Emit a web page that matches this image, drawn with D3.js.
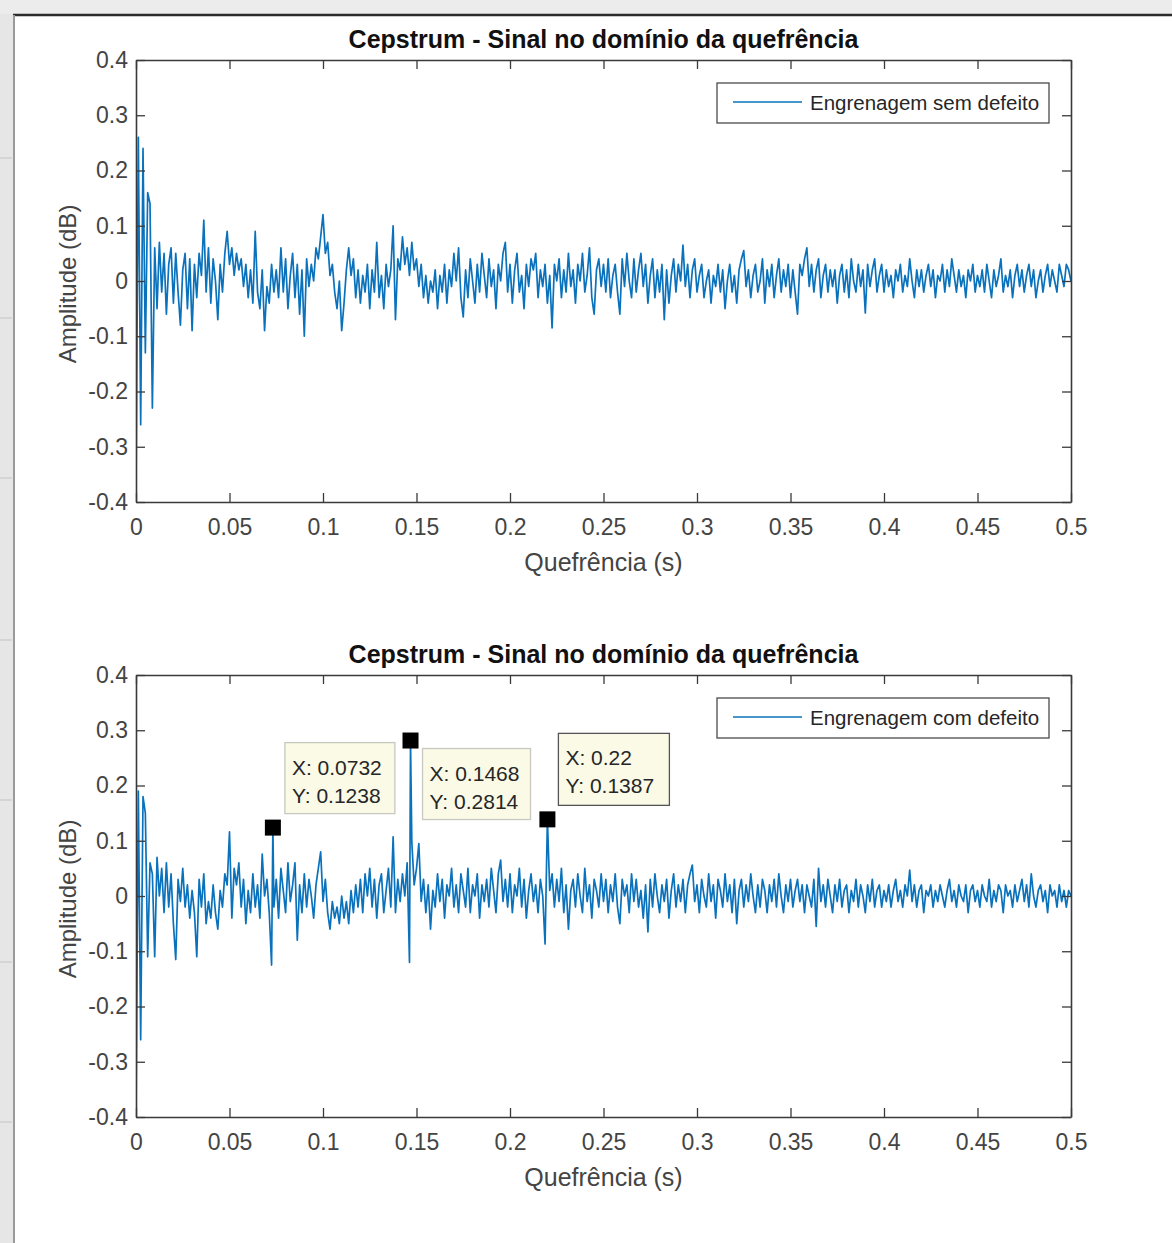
<!DOCTYPE html>
<html>
<head>
<meta charset="utf-8">
<script src="https://cdn.jsdelivr.net/npm/d3@7"></script>
<style>
  body { margin: 0; background: #ffffff; }
  svg { display: block; font-family: "Liberation Sans", Arial, Helvetica, sans-serif; }
</style>
</head>
<body>
<div id="chart"></div>
<script>
// Quefrency grid step of the sampled series (s)
const quefrencyStep = 0.00125;

const xTicks = [0, 0.05, 0.1, 0.15, 0.2, 0.25, 0.3, 0.35, 0.4, 0.45, 0.5];
const xTickLabels = ["0", "0.05", "0.1", "0.15", "0.2", "0.25", "0.3", "0.35", "0.4", "0.45", "0.5"];
const yTicks = [-0.4, -0.3, -0.2, -0.1, 0, 0.1, 0.2, 0.3, 0.4];
const yTickLabels = ["-0.4", "-0.3", "-0.2", "-0.1", "0", "0.1", "0.2", "0.3", "0.4"];

const titleText = "Cepstrum - Sinal no domínio da quefrência";
const xLabelText = "Quefrência (s)";
const yLabelText = "Amplitude (dB)";
const legendLabels = ["Engrenagem sem defeito", "Engrenagem com defeito"];

// Amplitude (dB), one value per 0.00125 s
const semDefeito = [
  -0.38, 0.26, -0.26, 0.24, -0.13, 0.16, 0.14, -0.23, 0.06, -0.05, 0.07, -0.02, 0.05, -0.06, 0.03, 0.06, -0.04, 0.05, -0.02, -0.08,
  0.02, 0.05, -0.05, 0.04, -0.09, 0.03, -0.03, 0.05, 0.01, 0.11, -0.02, 0.06, -0.04, 0.04, 0.00, -0.07, 0.03, -0.02, 0.05, 0.09,
  0.03, 0.06, 0.01, 0.05, 0.02, 0.04, -0.01, 0.03, -0.03, 0.02, -0.04, 0.09, -0.02, -0.05, 0.02, -0.09, -0.01, -0.04, 0.03, -0.02,
  0.02, -0.03, 0.06, -0.02, 0.04, -0.05, 0.01, 0.05, -0.03, 0.03, -0.06, 0.02, -0.10, 0.04, -0.01, 0.03, 0.00, 0.06, 0.04, 0.08,
  0.12, 0.05, 0.07, 0.01, 0.03, -0.02, -0.05, 0.00, -0.09, -0.04, 0.02, 0.06, 0.01, 0.04, -0.03, 0.02, -0.04, 0.01, -0.02, 0.03,
  -0.05, 0.02, -0.02, 0.07, -0.03, 0.01, -0.05, 0.03, -0.01, 0.02, 0.10, -0.07, 0.04, 0.02, 0.08, 0.03, 0.06, 0.01, 0.07, 0.02,
  0.04, -0.01, 0.03, -0.03, 0.01, -0.04, 0.00, -0.02, 0.02, -0.05, 0.01, -0.02, 0.03, -0.04, 0.02, -0.01, 0.05, 0.00, 0.06, -0.03,
  -0.065, 0.02, -0.03, 0.04, 0.00, -0.04, 0.03, -0.02, 0.05, 0.01, -0.03, 0.04, -0.01, 0.02, -0.05, 0.03, 0.00, 0.05, 0.07, -0.02,
  0.03, -0.04, 0.02, 0.05, -0.02, 0.01, -0.05, 0.03, -0.01, 0.04, 0.02, 0.05, -0.03, 0.02, -0.01, 0.03, -0.04, 0.01, -0.085, 0.03,
  0.00, 0.04, -0.03, 0.02, -0.02, 0.05, -0.01, 0.02, -0.04, 0.03, 0.00, 0.05, -0.02, 0.01, 0.06, -0.03, -0.06, 0.02, 0.04, -0.01,
  0.03, -0.02, 0.04, -0.03, 0.01, 0.03, -0.02, -0.06, 0.04, -0.01, 0.05, 0.00, -0.03, 0.04, -0.02, 0.02, 0.05, -0.01, 0.03, -0.04,
  0.01, 0.04, -0.03, 0.02, -0.02, 0.03, -0.07, 0.02, -0.04, 0.01, 0.04, -0.02, 0.03, 0.00, 0.065, -0.01, 0.03, -0.03, 0.02, 0.04,
  -0.02, 0.01, 0.03, -0.03, 0.00, 0.02, -0.04, 0.01, -0.01, 0.03, -0.02, 0.02, -0.05, 0.00, 0.03, -0.02, 0.01, -0.04, 0.02, 0.04,
  0.055, -0.01, 0.02, -0.03, 0.01, 0.03, -0.02, 0.00, 0.04, -0.04, 0.02, -0.01, 0.03, -0.03, 0.01, 0.04, -0.02, 0.02, -0.01, 0.03,
  -0.03, 0.02, -0.02, -0.06, 0.03, 0.01, 0.04, 0.06, -0.01, 0.03, -0.02, 0.02, 0.04, -0.03, 0.01, 0.03, -0.02, 0.02, -0.01, 0.02,
  -0.04, 0.01, 0.03, -0.02, 0.02, -0.03, 0.04, 0.00, -0.02, 0.03, -0.01, 0.02, -0.058, 0.03, -0.01, 0.02, 0.04, -0.02, 0.01, 0.03,
  -0.02, 0.02, -0.01, 0.01, -0.03, 0.02, 0.00, 0.03, -0.02, 0.01, -0.01, 0.04, 0.00, -0.03, 0.02, -0.01, 0.02, -0.02, 0.01, 0.03,
  -0.01, 0.02, -0.03, 0.01, 0.00, 0.03, -0.02, 0.02, -0.01, 0.04, 0.01, -0.02, 0.02, -0.01, 0.01, -0.03, 0.02, 0.00, 0.03, -0.02,
  0.01, -0.01, 0.02, -0.02, 0.03, 0.00, -0.03, 0.02, -0.01, 0.01, 0.04, -0.02, 0.01, -0.01, 0.02, -0.03, 0.01, 0.03, -0.01, 0.02,
  -0.02, 0.01, 0.03, -0.01, 0.02, -0.03, 0.00, 0.02, -0.02, 0.01, 0.03, -0.01, 0.02, 0.00, -0.02, 0.03, 0.01, -0.01, 0.03, 0.02,
  0.00
];

const comDefeito = [
  -0.40, 0.19, -0.26, 0.18, 0.15, -0.11, 0.06, 0.04, -0.11, 0.07, 0.00, 0.05, -0.03, 0.06, -0.02, 0.04, -0.05, -0.115, 0.03, -0.01,
  0.05, -0.02, 0.02, -0.04, 0.01, -0.03, -0.11, 0.03, -0.02, 0.04, -0.05, -0.01, -0.04, 0.02, -0.03, -0.06, 0.01, -0.02, 0.04, 0.02,
  0.116, -0.04, 0.05, 0.02, 0.06, -0.02, 0.03, -0.05, 0.01, -0.03, 0.04, -0.02, 0.02, -0.04, 0.076, 0.00, 0.03, -0.03, -0.125, -0.02,
  0.03, -0.04, 0.05, 0.01, -0.03, 0.06, -0.01, 0.02, 0.06, -0.08, 0.02, -0.03, 0.04, -0.02, 0.03, 0.00, -0.04, 0.02, 0.05, 0.08,
  -0.01, 0.03, -0.03, -0.06, -0.01, -0.04, -0.02, -0.05, 0.00, -0.04, -0.01, -0.05, 0.01, -0.03, 0.02, -0.02, 0.03, -0.03, 0.04, 0.00,
  0.05, -0.02, 0.03, -0.04, 0.02, 0.04, -0.03, 0.01, 0.05, -0.02, 0.107, -0.03, 0.03, -0.01, 0.04, 0.00, 0.06, -0.12, 0.097, 0.02,
  0.05, 0.095, -0.01, 0.03, -0.03, 0.02, -0.06, 0.01, -0.02, 0.04, -0.01, 0.03, -0.04, 0.02, 0.00, 0.05, -0.02, 0.02, -0.03, 0.04,
  0.01, -0.02, 0.05, -0.03, 0.02, 0.00, 0.04, -0.04, 0.02, -0.01, 0.03, -0.02, 0.05, 0.01, -0.03, 0.04, 0.065, -0.01, 0.03, -0.02,
  0.04, -0.03, 0.02, 0.00, 0.05, -0.02, 0.03, -0.04, 0.01, 0.04, -0.01, 0.02, -0.03, 0.03, 0.00, -0.087, 0.1387, 0.01, 0.04, -0.02,
  0.03, -0.01, 0.05, -0.03, 0.02, -0.06, 0.01, 0.03, -0.02, 0.04, 0.00, -0.03, 0.05, -0.01, 0.02, -0.04, 0.03, 0.01, -0.02, 0.04,
  -0.01, 0.03, -0.03, 0.02, -0.01, 0.04, -0.02, -0.05, 0.03, 0.00, 0.02, -0.03, 0.04, -0.01, 0.03, -0.02, 0.01, -0.04, 0.02, -0.065,
  0.03, -0.02, 0.04, 0.00, -0.03, 0.02, -0.01, 0.03, -0.04, 0.01, 0.04, -0.02, 0.02, -0.01, 0.03, -0.03, 0.02, 0.04, 0.056, -0.01,
  0.02, -0.03, 0.03, 0.00, -0.02, 0.04, -0.01, 0.02, -0.04, 0.03, 0.01, -0.02, 0.04, -0.01, 0.02, -0.03, 0.03, -0.05, 0.01, 0.03,
  -0.02, 0.02, -0.01, 0.04, 0.00, -0.03, 0.02, -0.02, 0.03, 0.01, -0.03, 0.02, -0.01, 0.03, -0.02, 0.04, 0.00, -0.03, 0.02, -0.01,
  0.03, -0.02, 0.01, 0.03, -0.01, 0.02, -0.03, 0.02, 0.00, -0.02, 0.03, -0.055, 0.05, -0.01, 0.02, -0.02, 0.03, 0.00, -0.03, 0.02,
  -0.01, 0.03, -0.02, 0.01, 0.02, -0.03, 0.01, -0.01, 0.03, -0.02, 0.02, 0.00, -0.03, 0.02, -0.01, 0.03, -0.02, 0.01, 0.02, -0.02,
  0.01, -0.01, 0.02, -0.02, 0.01, 0.03, -0.01, 0.01, -0.02, 0.02, 0.00, 0.047, -0.01, 0.02, -0.02, 0.01, 0.02, -0.03, 0.01, 0.00,
  0.02, -0.02, 0.01, -0.01, 0.02, 0.00, -0.02, 0.01, 0.03, -0.01, 0.01, -0.02, 0.02, 0.00, -0.01, 0.02, -0.03, 0.01, 0.02, -0.01,
  0.01, -0.02, 0.02, 0.00, -0.01, 0.03, -0.02, 0.01, -0.01, 0.02, 0.01, -0.03, 0.02, 0.00, 0.01, -0.02, 0.02, -0.01, 0.01, 0.03,
  -0.01, 0.02, -0.02, 0.04, 0.00, -0.02, 0.01, 0.02, -0.01, 0.01, -0.03, 0.02, 0.00, 0.01, -0.02, 0.02, -0.01, 0.01, -0.02, 0.01,
  0.00
];

// Data tips on the faulty-gear series
const dataTips = [
  { x: 0.0732, y: 0.1238 },
  { x: 0.1468, y: 0.2814 },
  { x: 0.22, y: 0.1387 }
];

// Layout
const W = 1172, H = 1243;
const plotLeft = 136, plotRight = 1071, plotHeight = 442;
const panelTops = [60, 675];
const lineColor = "#0a72bc";
const textColor = "#262626";
const tickTextColor = "#444444";
// pixel offsets of each tip box from its marker, and box sizes
const tipLayout = [
  { dx: 12, dy: -85, w: 110, h: 71, edge: "#c8c8c0" },
  { dx: 12, dy: 8, w: 108, h: 71, edge: "#c8c8c0" },
  { dx: 11, dy: -86, w: 111, h: 72, edge: "#555555" }
];

const svg = d3.select("#chart")
    .append("svg")
    .attr("width", W)
    .attr("height", H);

// Window frame around the figure
svg.append("rect").attr("width", W).attr("height", H).attr("fill", "#ffffff");
svg.append("rect").attr("width", W).attr("height", 14).attr("fill", "#ececec");
svg.append("rect").attr("y", 14).attr("width", 13).attr("height", H - 14).attr("fill", "#e6e6e6");
svg.append("line").attr("x1", 13).attr("x2", W).attr("y1", 15).attr("y2", 15)
    .attr("stroke", "#2b2b2b").attr("stroke-width", 2.5);
svg.append("line").attr("x1", 14).attr("x2", 14).attr("y1", 15).attr("y2", H)
    .attr("stroke", "#9a9a9a").attr("stroke-width", 2);
[158, 318, 478, 640, 800, 962, 1122].forEach(yy => {
    svg.append("line").attr("x1", 0).attr("x2", 12).attr("y1", yy).attr("y2", yy)
        .attr("stroke", "#c4c4c4").attr("stroke-width", 1);
});

const x = d3.scaleLinear().domain([0, 0.5]).range([plotLeft, plotRight]);

function buildPoints(values, tips) {
    let pts = values.map((v, i) => ({ q: i * quefrencyStep, a: v }));
    tips.forEach(t => {
        pts = pts.filter(p => Math.abs(p.q - t.x) > 1e-9);
        pts.push({ q: t.x, a: t.y });
    });
    return pts.sort((p1, p2) => p1.q - p2.q);
}

function drawPanel(top, values, legendText, tips, idx) {
    const y = d3.scaleLinear().domain([-0.4, 0.4]).range([top + plotHeight, top]);
    const g = svg.append("g");

    svg.append("clipPath").attr("id", "clip" + idx)
        .append("rect")
        .attr("x", plotLeft).attr("y", top)
        .attr("width", plotRight - plotLeft).attr("height", plotHeight);

    // Signal
    g.append("path")
        .datum(buildPoints(values, tips))
        .attr("clip-path", `url(#clip${idx})`)
        .attr("fill", "none")
        .attr("stroke", lineColor)
        .attr("stroke-width", 1.7)
        .attr("stroke-linejoin", "round")
        .attr("d", d3.line().x(d => x(d.q)).y(d => y(d.a)));

    // Axes (ticks inward, box on)
    const axisStyle = sel => {
        sel.selectAll("path").attr("stroke", "#3a3a3a").attr("stroke-width", 1.6);
        sel.selectAll("line").attr("stroke", "#3a3a3a").attr("stroke-width", 1.3);
        sel.selectAll("text").attr("fill", tickTextColor)
            .style("font-size", "23px")
            .style("font-family", "'Liberation Sans', Arial, sans-serif");
    };

    g.append("g")
        .attr("transform", `translate(0,${top + plotHeight})`)
        .call(d3.axisBottom(x).tickValues(xTicks).tickSize(-9).tickSizeOuter(0).tickPadding(17)
            .tickFormat((d, i) => xTickLabels[i]))
        .call(axisStyle);

    g.append("g")
        .attr("transform", `translate(0,${top})`)
        .call(d3.axisTop(x).tickValues(xTicks).tickSize(-9).tickSizeOuter(0).tickFormat(""))
        .call(axisStyle);

    g.append("g")
        .attr("transform", `translate(${plotLeft},0)`)
        .call(d3.axisLeft(y).tickValues(yTicks).tickSize(-9).tickSizeOuter(0).tickPadding(8)
            .tickFormat((d, i) => yTickLabels[i]))
        .call(axisStyle);

    g.append("g")
        .attr("transform", `translate(${plotRight},0)`)
        .call(d3.axisRight(y).tickValues(yTicks).tickSize(-9).tickSizeOuter(0).tickFormat(""))
        .call(axisStyle);

    // Title and axis labels
    g.append("text")
        .attr("x", (plotLeft + plotRight) / 2)
        .attr("y", top - 12)
        .attr("text-anchor", "middle")
        .attr("fill", "#111")
        .style("font-size", "25px")
        .style("font-weight", "bold")
        .text(titleText);

    g.append("text")
        .attr("x", (plotLeft + plotRight) / 2)
        .attr("y", top + plotHeight + 69)
        .attr("text-anchor", "middle")
        .attr("fill", tickTextColor)
        .style("font-size", "25px")
        .text(xLabelText);

    g.append("text")
        .attr("transform", `translate(76,${top + plotHeight / 2 + 3}) rotate(-90)`)
        .attr("text-anchor", "middle")
        .attr("fill", tickTextColor)
        .style("font-size", "24px")
        .text(yLabelText);

    // Legend
    const lg = g.append("g").attr("transform", `translate(717,${top + 23})`);
    lg.append("rect")
        .attr("width", 332).attr("height", 40)
        .attr("fill", "#ffffff").attr("stroke", "#4a4a4a").attr("stroke-width", 1.3);
    lg.append("line")
        .attr("x1", 16).attr("x2", 85).attr("y1", 19).attr("y2", 19)
        .attr("stroke", lineColor).attr("stroke-width", 1.4);
    lg.append("text")
        .attr("x", 93).attr("y", 27)
        .attr("fill", textColor)
        .style("font-size", "20.5px")
        .text(legendText);

    // Data tips
    tips.forEach((t, i) => {
        const px = x(t.x), py = y(t.y), L = tipLayout[i];
        const tg = g.append("g");
        tg.append("rect")
            .attr("x", px + L.dx).attr("y", py + L.dy)
            .attr("width", L.w).attr("height", L.h)
            .attr("fill", "#fafae6").attr("stroke", L.edge).attr("stroke-width", 1.3);
        tg.append("text")
            .attr("x", px + L.dx + 7).attr("y", py + L.dy + 32)
            .attr("fill", textColor).style("font-size", "21px")
            .text(`X: ${t.x}`);
        tg.append("text")
            .attr("x", px + L.dx + 7).attr("y", py + L.dy + 60)
            .attr("fill", textColor).style("font-size", "21px")
            .text(`Y: ${t.y}`);
        tg.append("rect")
            .attr("x", px - 8).attr("y", py - 8)
            .attr("width", 16).attr("height", 16)
            .attr("fill", "#000");
    });
}

drawPanel(panelTops[0], semDefeito, legendLabels[0], [], 0);
drawPanel(panelTops[1], comDefeito, legendLabels[1], dataTips, 1);
</script>
</body>
</html>
